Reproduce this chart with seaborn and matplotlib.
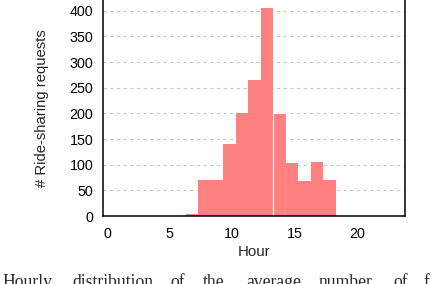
import numpy as np
import matplotlib
matplotlib.use("Agg")
import matplotlib.pyplot as plt
import seaborn as sns

# Data
hours = np.array([6, 7, 8, 9, 10, 11, 12, 13, 14, 15, 16, 17])
requests = np.array([4, 70, 70, 140, 200, 265, 405, 200, 103, 68, 105, 70])
y_ticks = [0, 50, 100, 150, 200, 250, 300, 350, 400]
x_ticks = [0, 5, 10, 15, 20]
caption_words = ["Hourly", "distribution", "of", "the", "average", "number", "of", "f"]
caption_x = [2, 72, 170, 203, 246, 319, 393, 424]

sns.set_style("white")
plt.rcParams["font.family"] = ["Liberation Sans", "DejaVu Sans"]

W, H = 432, 284
fig = plt.figure(figsize=(W / 100, H / 100), dpi=100)
ax = fig.add_axes([103 / W, 68 / H, 302 / W, 216 / H])

# bars sit on [h + 0.3, h + 1.3] in the original figure
sns.barplot(
    x=hours + 0.8,
    y=requests,
    native_scale=True,
    width=1,
    color="#ff8080",
    saturation=1,
    linewidth=0,
    errorbar=None,
    ax=ax,
)
# thin white seam visible before the 13h bar
ax.patches[7].set_edgecolor("white")
ax.patches[7].set_linewidth(0.8)

ax.set_xlim(-0.32, 23.84)
ax.set_ylim(0, 421)
ax.set_xticks(x_ticks)
ax.set_xticklabels([str(t) for t in x_ticks])
ax.set_yticks(y_ticks)
ax.set_yticklabels([str(t) for t in y_ticks])
ax.tick_params(length=0, labelsize=10.3, colors="black")
ax.tick_params(axis="y", pad=7)
ax.tick_params(axis="x", pad=8)

ax.set_axisbelow(True)
ax.yaxis.grid(True, linestyle=(0, (3, 3)), color="#c8c8c8", linewidth=0.8)
ax.xaxis.grid(False)

for side in ["left", "right", "bottom"]:
    ax.spines[side].set_color("black")
    ax.spines[side].set_linewidth(1.1)
ax.spines["top"].set_visible(False)

ax.set_xlabel("Hour", fontsize=10.8, va="center")
ax.set_ylabel("# Ride-sharing requests", fontsize=10.7, va="center")
ax.xaxis.set_label_coords(0.5, -36 / 216)
ax.yaxis.set_label_coords(-61 / 302, 0.5)

# caption of the paper, cut by the crop
for word, xp in zip(caption_words, caption_x):
    fig.text(xp / W, -3 / H, word, family="Liberation Serif", fontsize=12.7,
             ha="left", va="baseline")

fig.savefig("out.png", dpi=100)
